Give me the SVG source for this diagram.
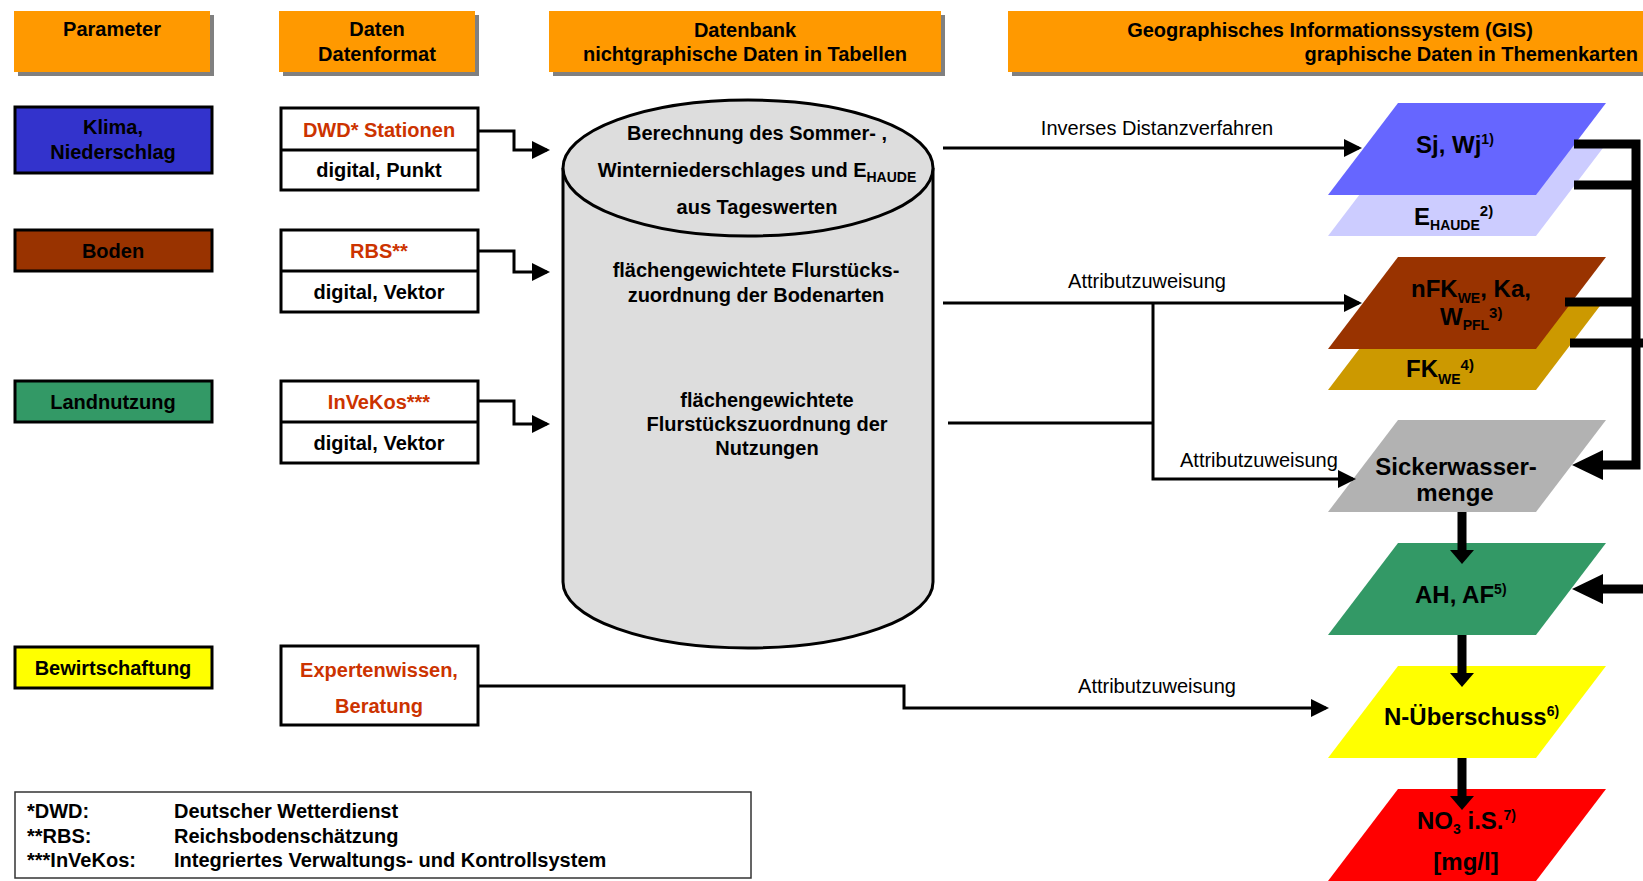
<svg xmlns="http://www.w3.org/2000/svg" width="1643" height="881" viewBox="0 0 1643 881">
<defs>
<style>
text{font-family:"Liberation Sans",Arial,sans-serif;fill:#000}
.b{font-weight:bold;font-size:20px}
.r{font-size:20px}
.red{fill:#CC3300}
.c{text-anchor:middle}
.g{font-weight:bold;font-size:24px}
.sm{font-size:14px}
.sp{font-size:15px}
.hdr{fill:#FF9900}
.shd{fill:#808080}
.box{stroke:#000;stroke-width:3}
.wbox{fill:#fff;stroke:#000;stroke-width:3}
.thin{fill:none;stroke:#000;stroke-width:3}
.thick{fill:none;stroke:#000;stroke-width:9}
</style>
<marker id="ah" markerUnits="userSpaceOnUse" viewBox="0 0 18 18" refX="15" refY="9" markerWidth="18" markerHeight="18" orient="auto">
<path d="M0,0 L18,9 L0,18 Z" fill="#000"/>
</marker>
</defs>
<rect width="1643" height="881" fill="#fff"/>

<g id="header-parameter">
<rect class="shd" x="18" y="15" width="196" height="61"/>
<rect class="hdr" x="14" y="11" width="196" height="61"/>
<text class="b c" x="112" y="36">Parameter</text>
</g>
<g id="header-daten">
<rect class="shd" x="283" y="15" width="196" height="61"/>
<rect class="hdr" x="279" y="11" width="196" height="61"/>
<text class="b c" x="377" y="36">Daten</text>
<text class="b c" x="377" y="61">Datenformat</text>
</g>
<g id="header-datenbank">
<rect class="shd" x="553" y="15" width="392" height="61"/>
<rect class="hdr" x="549" y="11" width="392" height="61"/>
<text class="b c" x="745" y="37">Datenbank</text>
<text class="b c" x="745" y="61">nichtgraphische Daten in Tabellen</text>
</g>
<g id="header-gis">
<rect class="shd" x="1012" y="15" width="640" height="61"/>
<rect class="hdr" x="1008" y="11" width="640" height="61"/>
<text class="b c" x="1330" y="37">Geographisches Informationssystem (GIS)</text>
<text class="b" x="1638" y="61" text-anchor="end">graphische Daten in Themenkarten</text>
</g>

<g id="param-klima">
<rect class="box" x="15" y="107" width="197" height="66" fill="#3333CC"/>
<text class="b c" x="113" y="134">Klima,</text>
<text class="b c" x="113" y="159">Niederschlag</text>
</g>
<g id="param-boden">
<rect class="box" x="15" y="230" width="197" height="41" fill="#993300"/>
<text class="b c" x="113" y="258">Boden</text>
</g>
<g id="param-landnutzung">
<rect class="box" x="15" y="381" width="197" height="41" fill="#339966"/>
<text class="b c" x="113" y="409">Landnutzung</text>
</g>
<g id="param-bewirtschaftung">
<rect class="box" x="15" y="647" width="197" height="41" fill="#FFFF00"/>
<text class="b c" x="113" y="675">Bewirtschaftung</text>
</g>

<g id="data-dwd">
<rect class="wbox" x="281" y="108" width="197" height="82"/>
<line class="thin" x1="281" y1="150" x2="478" y2="150"/>
<text class="b c red" x="379" y="137">DWD* Stationen</text>
<text class="b c" x="379" y="177">digital, Punkt</text>
</g>
<g id="data-rbs">
<rect class="wbox" x="281" y="230" width="197" height="82"/>
<line class="thin" x1="281" y1="271" x2="478" y2="271"/>
<text class="b c red" x="379" y="258">RBS**</text>
<text class="b c" x="379" y="299">digital, Vektor</text>
</g>
<g id="data-invekos">
<rect class="wbox" x="281" y="381" width="197" height="82"/>
<line class="thin" x1="281" y1="422" x2="478" y2="422"/>
<text class="b c red" x="379" y="409">InVeKos***</text>
<text class="b c" x="379" y="450">digital, Vektor</text>
</g>
<g id="data-experten">
<rect class="wbox" x="281" y="646" width="197" height="79"/>
<text class="b c red" x="379" y="677">Expertenwissen,</text>
<text class="b c red" x="379" y="713">Beratung</text>
</g>

<g id="datenbank">
<path d="M563,168 V582 A185,66 0 0 0 933,582 V168" fill="#DDDDDD" stroke="#000" stroke-width="3"/>
<ellipse cx="748" cy="168" rx="185" ry="68" fill="#DDDDDD" stroke="#000" stroke-width="3"/>
<text class="b c" x="757" y="140">Berechnung des Sommer- ,</text>
<text class="b c" x="757" y="177">Winterniederschlages und E<tspan class="sm" dy="5">HAUDE</tspan></text>
<text class="b c" x="757" y="214">aus Tageswerten</text>
<text class="b c" x="756" y="277">flächengewichtete Flurstücks-</text>
<text class="b c" x="756" y="302">zuordnung der Bodenarten</text>
<text class="b c" x="767" y="407">flächengewichtete</text>
<text class="b c" x="767" y="431">Flurstückszuordnung der</text>
<text class="b c" x="767" y="455">Nutzungen</text>
</g>

<g id="gis-ehaude">
<polygon points="1398,144 1606,144 1536,236 1328,236" fill="#CCCCFF"/>
<text class="g" x="1414" y="225">E<tspan class="sm" dy="5">HAUDE</tspan><tspan class="sp" dy="-14">2)</tspan></text>
</g>
<g id="gis-sjwj">
<polygon points="1398,103 1606,103 1536,195 1328,195" fill="#6666FF"/>
<text class="g" x="1416" y="153">Sj, Wj<tspan class="sm" dy="-9">1)</tspan></text>
</g>
<g id="gis-fkwe">
<polygon points="1398,298 1606,298 1536,390 1328,390" fill="#CC9900"/>
<text class="g" x="1406" y="377">FK<tspan class="sm" dy="7">WE</tspan><tspan class="sp" dy="-14">4)</tspan></text>
</g>
<g id="gis-nfk">
<polygon points="1398,257 1606,257 1536,349 1328,349" fill="#993300"/>
<text class="g" x="1411" y="297">nFK<tspan class="sm" dy="6">WE</tspan><tspan dy="-6">, Ka,</tspan></text>
<text class="g" x="1440" y="325">W<tspan class="sm" dy="5">PFL</tspan><tspan class="sp" dy="-12">3)</tspan></text>
</g>
<g id="gis-sickerwasser">
<polygon points="1398,420 1606,420 1536,512 1328,512" fill="#B2B2B2"/>
<text class="g c" x="1456" y="475">Sickerwasser-</text>
<text class="g c" x="1455" y="501">menge</text>
</g>
<g id="gis-ahaf">
<polygon points="1398,543 1606,543 1536,635 1328,635" fill="#339966"/>
<text class="g" x="1415" y="603">AH, AF<tspan class="sm" dy="-9">5)</tspan></text>
</g>
<g id="gis-nueberschuss">
<polygon points="1398,666 1606,666 1536,758 1328,758" fill="#FFFF00"/>
<text class="g" x="1384" y="725">N-Überschuss<tspan class="sm" dy="-9">6)</tspan></text>
</g>
<g id="gis-no3">
<polygon points="1398,789 1606,789 1536,881 1328,881" fill="#FF0000"/>
<text class="g" x="1417" y="829">NO<tspan class="sm" dy="5">3</tspan><tspan dy="-5"> i.S.</tspan><tspan class="sm" dy="-9">7)</tspan></text>
<text class="g c" x="1466" y="870">[mg/l]</text>
</g>

<g id="legend">
<rect x="15" y="792" width="736" height="86" fill="#fff" stroke="#333" stroke-width="1.5"/>
<text class="b" x="27" y="818">*DWD:</text>
<text class="b" x="174" y="818">Deutscher Wetterdienst</text>
<text class="b" x="27" y="843">**RBS:</text>
<text class="b" x="174" y="843">Reichsbodenschätzung</text>
<text class="b" x="27" y="867">***InVeKos:</text>
<text class="b" x="174" y="867">Integriertes Verwaltungs- und Kontrollsystem</text>
</g>

<g id="connectors">
<polyline class="thin" points="478,131 514,131 514,150 547,150" marker-end="url(#ah)"/>
<polyline class="thin" points="478,251 514,251 514,272 547,272" marker-end="url(#ah)"/>
<polyline class="thin" points="478,401 514,401 514,424 547,424" marker-end="url(#ah)"/>
<line class="thin" x1="943" y1="148" x2="1359" y2="148" marker-end="url(#ah)"/>
<text class="r c" x="1157" y="135">Inverses Distanzverfahren</text>
<line class="thin" x1="943" y1="303" x2="1359" y2="303" marker-end="url(#ah)"/>
<text class="r c" x="1147" y="288">Attributzuweisung</text>
<polyline class="thin" points="948,423 1153,423"/>
<polyline class="thin" points="1153,302 1153,479 1353,479" marker-end="url(#ah)"/>
<text class="r" x="1180" y="467">Attributzuweisung</text>
<polyline class="thin" points="478,686 904,686 904,708 1326,708" marker-end="url(#ah)"/>
<text class="r c" x="1157" y="693">Attributzuweisung</text>

<path class="thick" d="M1574,144 H1640 M1574,185 H1640 M1565,302 H1640 M1570,343 H1643 M1636,139.5 V469.5 M1640,465 H1600 M1643,589 H1600"/>
<polygon points="1603,450 1572,465 1603,480" fill="#000"/>
<polygon points="1603,574 1572,589 1603,604" fill="#000"/>

<path class="thick" d="M1462,512 V552 M1462,635 V675 M1462,758 V798"/>
<polygon points="1450,550 1462,564 1474,550" fill="#000"/>
<polygon points="1450,673 1462,687 1474,673" fill="#000"/>
<polygon points="1450,796 1462,810 1474,796" fill="#000"/>
</g>
</svg>
